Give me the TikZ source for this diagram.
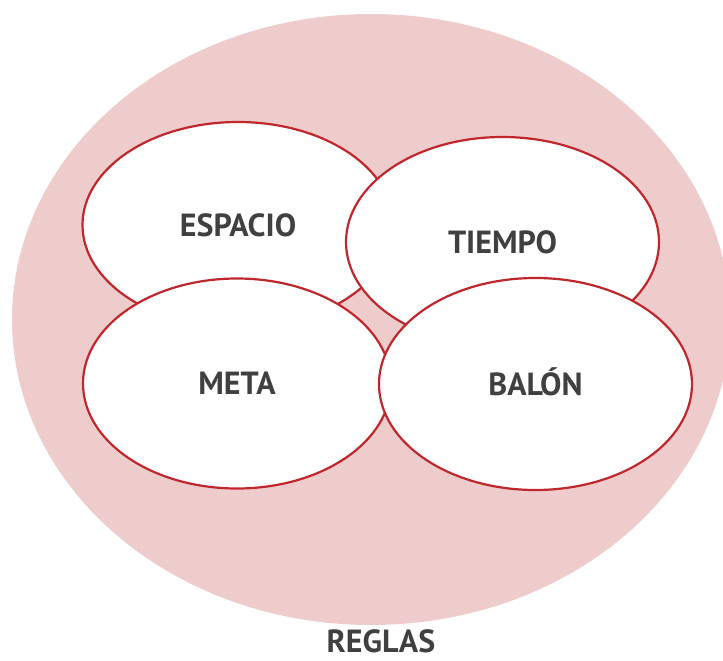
\documentclass[tikz,border=0pt]{standalone}
\usepackage{fontspec}
\setmainfont{PT Sans}
\usetikzlibrary{shapes.geometric}
\definecolor{reglasfill}{RGB}{238,204,204}
\definecolor{borde}{RGB}{192,39,45}
\definecolor{texto}{RGB}{64,64,64}

\begin{document}
\begin{tikzpicture}[x=1pt,y=-1pt]
\path [use as bounding box] (0,0) rectangle (723,661);
\clip (0,0) rectangle (723,661);
\tikzstyle{every node} = [font=\bfseries\fontsize{32}{32}\selectfont, text=texto, text height=22pt, text depth=0pt, inner sep=0pt]
\tikzstyle{oval} = [ellipse, draw=borde, line width=2.2pt, fill=white]
\node[ellipse, fill=reglasfill, minimum width=718, minimum height=611] (reglas) at (371,319.5) {};
\node[oval, minimum width=311, minimum height=206] (espacio) at (238,225) {ESPACIO};
\node[oval, minimum width=313, minimum height=210] (tiempo) at (502.5,242) {TIEMPO};
\node[oval, minimum width=308, minimum height=210] (meta) at (237,383.5) {META};
\node[oval, minimum width=313, minimum height=212] (balon) at (535.5,384) {BALÓN};
\node (etiqueta) at (381,641) {REGLAS};
\end{tikzpicture}
\end{document}
